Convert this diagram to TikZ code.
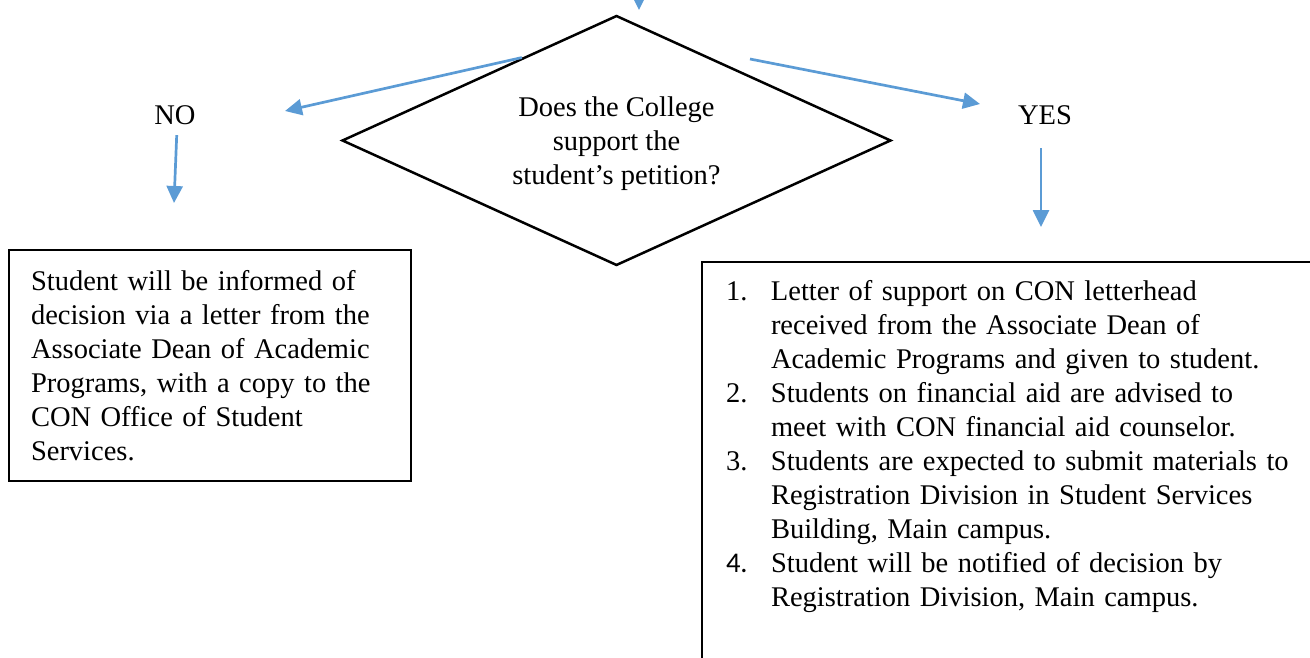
\documentclass[tikz,border=0pt]{standalone}
\usepackage{fontspec}
\setmainfont{Liberation Serif}
\newfontfamily\numfont{Carlito}
\usetikzlibrary{shapes.geometric,arrows.meta,calc}

\definecolor{flujo}{RGB}{91,155,213}

\tikzset{
  texto/.style={font=\fontsize{28.5}{34}\selectfont},
  flecha/.style={draw=flujo, line width=2.7pt, -{Triangle[length=17pt,width=16pt]}},
  decision/.style={texto, shape=diamond, draw, line width=2.5pt, inner sep=0pt,
    aspect=2.19, minimum width=549pt, minimum height=250pt, align=center,
    text depth=0pt},
  caja/.style={texto, draw, line width=2pt},
}

\begin{document}
\begin{tikzpicture}[x=1pt,y=-1pt]
    % Marco de la hoja
    \clip (0,0) rectangle (1310,658);

    % Pregunta
    \node[decision] (q) at (616.5,140.5) {Does the College\\support the\\student's petition?};

    % Respuestas
    \node[texto] (no) at (175,115) {NO};
    \node[texto] (yes) at (1045,115) {YES};

    % Cajas de resultado
    \node[caja, anchor=north west, text width=358pt, inner xsep=22pt,
      minimum height=231pt, align=left] (nobox) at (8,249)
      {Student will be informed of\\decision via a letter from the\\Associate Dean of Academic\\Programs, with a copy to the\\CON Office of Student\\Services.};
    \node[caja, anchor=north west, text width=600pt, inner xsep=24pt, inner ysep=15pt,
      align=left] (yesbox) at (701,261) {%
      \begin{tabular}{@{}p{45pt}@{}l@{}}
        1. & Letter of support on CON letterhead\\
           & received from the Associate Dean of\\
           & Academic Programs and given to student.\\
        2. & Students on financial aid are advised to\\
           & meet with CON financial aid counselor.\\
        3. & Students are expected to submit materials to\\
           & Registration Division in Student Services\\
           & Building, Main campus.\\
        {\numfont 4.} & Student will be notified of decision by\\
           & Registration Division, Main campus.\\[80pt]
      \end{tabular}};

    % Puntos libres de las flechas
    \coordinate (enter) at (639,-40);
    \coordinate (entertip) at (639,10);
    \coordinate (nostart) at ($(q.west)!0.657!(q.north)$);
    \coordinate (noin) at (285,111);
    \coordinate (yesstart) at (750,59);
    \coordinate (yesin) at (980,104);
    \coordinate (noout) at (174,203);
    \coordinate (yesout) at (1041,227);

    % Flechas
    \draw[flecha] (enter) -- (entertip);
    \draw[flecha] (nostart) -- (noin);
    \draw[flecha] (yesstart) -- (yesin);
    \draw[flecha, shorten <=7pt] ([xshift=2pt]no.south) -- (noout);
    \draw[flecha, shorten <=20pt] (yes.south -| yesout) -- (yesout);
\end{tikzpicture}
\end{document}
